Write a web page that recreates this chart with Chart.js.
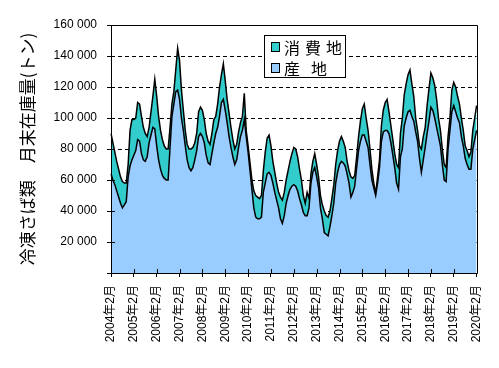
<!DOCTYPE html>
<html><head><meta charset="utf-8">
<script src="https://cdn.jsdelivr.net/npm/chart.js@4/dist/chart.umd.min.js"></script>
<style>html,body{margin:0;padding:0;background:#fff;}#wrap{width:499px;height:368px;}</style>
</head><body><div id="wrap"><canvas id="c" width="499" height="368"></canvas></div>
<script>
// categories: monthly, 2004年2月 .. 2020年2月
const startYear = 2004, startMonth = 2, monthCount = 193;
const categories = [];
for (let i = 0; i < monthCount; i++) {
  const t = startMonth - 1 + i;
  categories.push((startYear + Math.floor(t / 12)) + '年' + (t % 12 + 1) + '月');
}
// 産地 (tons)
const sanchi = [
 64000,60000,57000,53000,49000,45000,42000,44000,46000,62000,
 69000,73000,76000,79000,86000,85000,77000,73000,72000,75000,
 84000,89000,94000,93000,82000,73000,67000,63000,61000,60000,
 60000,81000,101000,109000,117000,118000,112000,100000,92000,82000,
 73000,68000,66000,68000,73000,79000,88000,90000,88000,84000,
 76000,71000,70000,77000,84000,90000,94000,101000,110000,112000,
 105000,97000,88000,81000,75000,70000,73000,81000,88000,92000,
 99000,88000,78000,66000,54000,42000,36000,35000,35000,36000,
 52000,58000,64000,65000,63000,58000,52000,47000,42000,35000,
 32000,37000,45000,50000,54000,56000,57000,56000,53000,48000,
 44000,39000,37000,37000,42000,58000,65000,68000,62000,55000,
 42000,35000,26000,25000,24000,30000,37000,45000,58000,65000,
 70000,72000,71000,69000,64000,58000,49000,52000,56000,68000,
 79000,85000,89000,89000,85000,81000,70000,60000,55000,50000,
 58000,68000,85000,91000,92000,92000,90000,84000,76000,68000,
 58000,54000,75000,80000,95000,100000,104000,105000,101000,98000,
 91000,85000,74000,65000,73000,81000,90000,98000,107000,105000,
 100000,94000,88000,82000,70000,60000,59000,80000,92000,104000,
 108000,104000,100000,97000,88000,82000,74000,70000,67000,67000,
 80000,86000,92000];
// 消費地 (tons)
const shohichi = [
 26000,24000,21000,19000,18000,17000,17000,14000,12000,8000,
 23000,26000,23000,21000,24000,24000,24000,21000,18000,13000,
 10000,15000,20000,32000,32000,28000,25000,23000,21000,20000,
 20000,13000,8000,8000,14000,27000,25000,18000,13000,10000,
 10000,12000,14000,13000,11000,11000,16000,17000,17000,15000,
 14000,14000,13000,13000,15000,11000,15000,19000,18000,23000,
 19000,15000,15000,13000,11000,10000,10000,10000,9000,9000,
 17000,4000,4000,5000,6000,11000,14000,14000,13000,14000,
 14000,20000,23000,24000,19000,14000,13000,11000,10000,14000,
 15000,15000,15000,16000,18000,21000,24000,24000,22000,19000,
 16000,11000,8000,15000,6000,6000,7000,9000,8000,7000,
 8000,9000,14000,12000,12000,10000,11000,12000,12000,14000,
 15000,16000,14000,12000,8000,8000,13000,9000,7000,7000,
 9000,13000,17000,20000,15000,11000,10000,7000,3000,1000,
 4000,5000,10000,14000,18000,20000,14000,11000,10000,9000,
 12000,14000,15000,20000,20000,22000,24000,26000,21000,16000,
 9000,7000,8000,15000,15000,13000,18000,21000,22000,21000,
 21000,18000,12000,10000,10000,10000,9000,8000,8000,14000,
 15000,16000,14000,12000,12000,10000,8000,9000,8000,11000,
 12000,14000,16000];
const seriesLabels = ['産地', '消費地'];
const yTickValues = [0, 20000, 40000, 60000, 80000, 100000, 120000, 140000, 160000];
const yTitle = '冷凍さば類　月末在庫量(トン)';

const LAT = '"Liberation Sans", Arial, "Noto Sans CJK JP", sans-serif';
const CJK = '"Noto Sans CJK JP", sans-serif';

const framePlugin = {
  id: 'frame',
  afterDatasetsDraw(chart) {
    const {ctx, chartArea: a, scales: {x, y}} = chart;
    ctx.save();
    ctx.strokeStyle = '#000';
    ctx.lineWidth = 1;
    ctx.beginPath();
    ctx.rect(Math.round(a.left) + 0.5, Math.round(a.top) + 0.5, Math.round(a.right - a.left), Math.round(a.bottom - a.top));
    ctx.stroke();
    ctx.beginPath();
    yTickValues.forEach(v => {
      const py = Math.round(y.getPixelForValue(v)) + 0.5;
      ctx.moveTo(a.left, py); ctx.lineTo(a.left + 4, py);
    });
    categories.forEach((c, i) => {
      if (i % 12 !== 0) return;
      const px = Math.round(x.getPixelForValue(i)) + 0.5;
      ctx.moveTo(px, a.bottom); ctx.lineTo(px, a.bottom - 4);
    });
    ctx.stroke();
    ctx.restore();
  },
  afterDraw(chart) {
    const ctx = chart.ctx;
    ctx.save();
    const bx = 264.5, by = 35.5, bw = 81, bh = 42;
    ctx.fillStyle = '#fff';
    ctx.fillRect(bx, by, bw, bh);
    ctx.strokeStyle = '#000'; ctx.lineWidth = 1;
    ctx.strokeRect(bx, by, bw, bh);
    const rows = [
      {ds: chart.data.datasets[1], cy: 47.5, step: 21},
      {ds: chart.data.datasets[0], cy: 68.5, step: 27}
    ];
    ctx.font = '16px ' + CJK;
    ctx.textBaseline = 'middle';
    ctx.textAlign = 'left';
    rows.forEach(r => {
      ctx.fillStyle = r.ds.backgroundColor;
      ctx.fillRect(271.5, r.cy - 5, 8, 9);
      ctx.strokeRect(271.5, r.cy - 5, 8, 9);
      ctx.fillStyle = '#000';
      [...r.ds.label].forEach((ch, k) => ctx.fillText(ch, 284 + k * r.step, r.cy));
    });
    ctx.restore();
  }
};

new Chart(document.getElementById('c').getContext('2d'), {
  type: 'line',
  data: {
    labels: categories,
    datasets: [
      {label: seriesLabels[0], data: sanchi, backgroundColor: '#99CCFF', borderColor: '#000', borderWidth: 1.5,
       fill: 'origin', pointRadius: 0, tension: 0},
      {label: seriesLabels[1], data: shohichi, backgroundColor: '#33CCCC', borderColor: '#000', borderWidth: 1.5,
       fill: '-1', pointRadius: 0, tension: 0}
    ]
  },
  options: {
    responsive: false, animation: false, devicePixelRatio: 1,
    layout: {padding: {left: 0, top: 25, right: 20, bottom: 0}},
    plugins: {legend: {display: false}, tooltip: {enabled: false}},
    scales: {
      x: {
        grid: {drawOnChartArea: false, drawTicks: true, tickLength: 4, tickColor: '#000', color: '#000'},
        border: {display: false},
        ticks: {autoSkip: false, maxRotation: 90, minRotation: 90, padding: 8, color: '#000',
                font: {family: LAT, size: 12},
                callback: (v, i) => (i % 12 === 0 ? categories[i] : null)},
        afterFit: s => { s.height = 95; }
      },
      y: {
        stacked: true, min: 0, max: 160000,
        afterBuildTicks: s => { s.ticks = yTickValues.map(v => ({value: v})); },
        ticks: {padding: 10, color: '#000', font: {family: LAT, size: 12},
                callback: v => (v === 0 ? '' : String(v).replace(/\B(?=(\d{3})+(?!\d))/g, ' '))},
        grid: {color: c => (c.tick && (c.tick.value === 0 || c.tick.value === 160000)) ? 'rgba(0,0,0,0)' : '#000',
               lineWidth: 1, tickLength: 4, tickColor: '#000'},
        border: {display: false, dash: [4, 3]},
        title: {display: true, text: yTitle, color: '#000', font: {family: CJK, size: 17}, padding: {top: 17, bottom: 0}},
        afterFit: s => { s.width = 111; }
      }
    }
  },
  plugins: [framePlugin]
});
</script>
</body></html>
